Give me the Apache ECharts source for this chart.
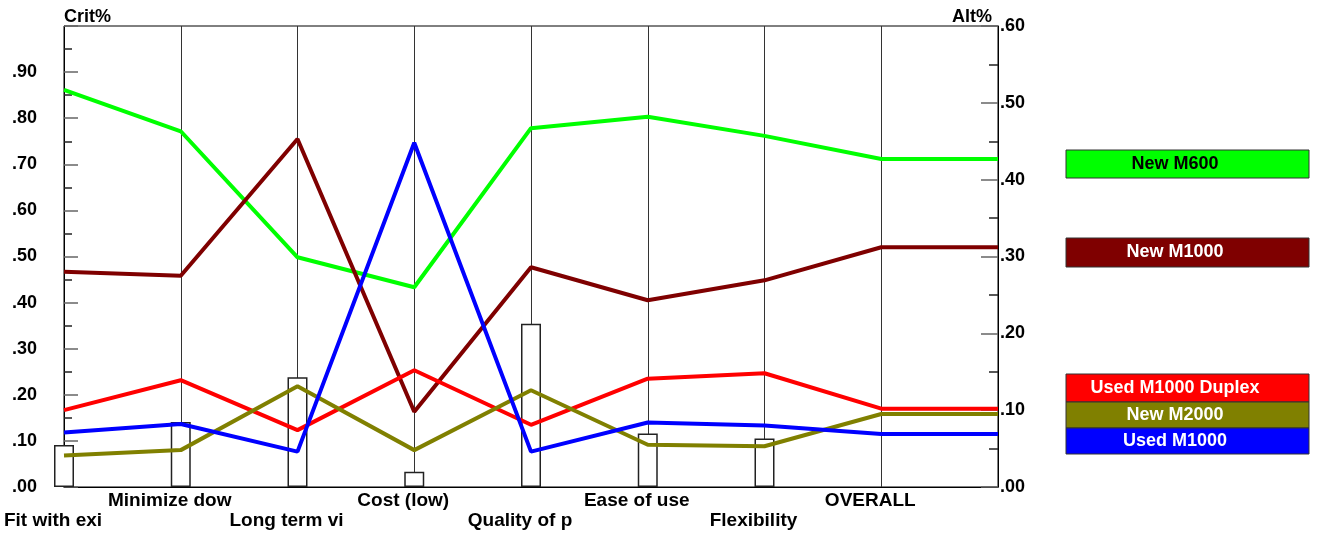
<!DOCTYPE html>
<html>
<head>
<meta charset="utf-8">
<script src="https://cdn.jsdelivr.net/npm/echarts@6/dist/echarts.min.js"></script>
<style>
  html, body { margin: 0; padding: 0; background: #fff; }
  #chart { width: 1317px; height: 533px; }
</style>
</head>
<body>
<div id="chart"></div>
<script>
// Criteria along the x axis (last slot carries the OVERALL values out to the right axis)
const categories = ['Fit with exi', 'Minimize dow', 'Long term vi', 'Cost (low)', 'Quality of p', 'Ease of use', 'Flexibility', 'OVERALL', ''];

// Criterion weights (left axis, Crit%)
const critWeights = [0.091, 0.141, 0.238, 0.033, 0.354, 0.116, 0.105, null, null];

// Alternative scores per criterion (right axis, Alt%)
const newM600         = [0.517, 0.463, 0.299, 0.260, 0.467, 0.482, 0.457, 0.427, 0.427];
const newM1000        = [0.280, 0.275, 0.453, 0.098, 0.286, 0.243, 0.269, 0.312, 0.312];
const usedM1000Duplex = [0.100, 0.139, 0.074, 0.152, 0.081, 0.141, 0.148, 0.102, 0.102];
const newM2000        = [0.041, 0.048, 0.131, 0.048, 0.126, 0.055, 0.053, 0.095, 0.095];
const usedM1000       = [0.071, 0.082, 0.046, 0.448, 0.046, 0.084, 0.080, 0.069, 0.069];

const alternativeNames = ['New M600', 'New M1000', 'Used M1000 Duplex', 'New M2000', 'Used M1000'];
const alternativeData = [newM600, newM1000, usedM1000Duplex, newM2000, usedM1000];
const alternativeColors = ['#00ff00', '#7f0000', '#ff0000', '#808000', '#0000ff'];
const legendTextColors = ['#000', '#fff', '#fff', '#fff', '#fff'];

const FONT = '"Liberation Sans", Arial, sans-serif';

function fmtTick(v) {
  return v.toFixed(2).replace(/^0/, '');
}

// Legend boxes at the right, next to each alternative's overall score
const legendLayout = [
  { top: 150, h: 28 },
  { top: 238, h: 29 },
  { top: 374, h: 28 },
  { top: 402, h: 26 },
  { top: 428, h: 26 }
];
const legendGraphics = [];
alternativeNames.forEach((name, i) => {
  const L = legendLayout[i];
  legendGraphics.push({
    type: 'rect',
    shape: { x: 1066, y: L.top, width: 243, height: L.h },
    style: { fill: alternativeColors[i], stroke: '#333', lineWidth: 1 }
  });
  legendGraphics.push({
    type: 'text',
    x: 1175, y: L.top + L.h / 2,
    style: {
      text: name, fill: legendTextColors[i], fontFamily: FONT,
      fontSize: 18, fontWeight: 'bold', align: 'center', verticalAlign: 'middle'
    }
  });
});

const chart = echarts.init(document.getElementById('chart'), null, { renderer: 'canvas' });

const series = [{
  name: 'Crit%',
  type: 'bar',
  yAxisIndex: 0,
  data: critWeights,
  barWidth: 20,
  z: 1,
  itemStyle: { color: '#fff', borderColor: '#222', borderWidth: 1.5 },
  silent: true
}];
alternativeNames.forEach((name, i) => {
  series.push({
    name: name,
    type: 'line',
    yAxisIndex: 1,
    data: alternativeData[i],
    symbol: 'none',
    z: 3,
    lineStyle: { color: alternativeColors[i], width: 4 },
    itemStyle: { color: alternativeColors[i] }
  });
});

chart.setOption({
  animation: false,
  backgroundColor: '#fff',
  grid: {
    left: 64, right: 319, top: 26, bottom: 46,
    show: true, borderColor: '#000', borderWidth: 1
  },
  xAxis: {
    type: 'category',
    data: categories,
    boundaryGap: false,
    axisLine: { lineStyle: { color: '#000', width: 1 } },
    axisTick: { show: false },
    splitLine: { show: true, lineStyle: { color: '#333', width: 1 } },
    axisLabel: {
      interval: 0,
      margin: 4,
      formatter: (v, i) => (i % 2 ? '{a|' + v + '}' : '{b|' + v + '}'),
      rich: {
        a: { fontFamily: FONT, fontSize: 19, fontWeight: 'bold', color: '#000', padding: [0, 22, 0, 0] },
        b: { fontFamily: FONT, fontSize: 19, fontWeight: 'bold', color: '#000', padding: [20, 22, 0, 0] }
      }
    }
  },
  yAxis: [{
    type: 'value',
    position: 'left',
    min: 0, max: 1, interval: 0.1,
    name: 'Crit%',
    nameLocation: 'end',
    nameGap: 0,
    nameTextStyle: { fontFamily: FONT, fontSize: 18, fontWeight: 'bold', color: '#000', align: 'left' },
    axisLine: { show: true, lineStyle: { color: '#000', width: 1 } },
    axisTick: { show: true, inside: true, length: 14, lineStyle: { color: '#666', width: 1.5 } },
    minorTick: { show: true, splitNumber: 2, length: 8, lineStyle: { color: '#222', width: 1.5 } },
    splitLine: { show: false },
    axisLabel: {
      margin: 27,
      fontFamily: FONT, fontSize: 18, fontWeight: 'bold', color: '#000',
      formatter: v => (v >= 1 ? '' : fmtTick(v))
    }
  }, {
    type: 'value',
    position: 'right',
    min: 0, max: 0.6, interval: 0.1,
    name: 'Alt%',
    nameLocation: 'end',
    nameGap: 0,
    nameTextStyle: { fontFamily: FONT, fontSize: 18, fontWeight: 'bold', color: '#000', align: 'right', padding: [0, 6, 0, 0] },
    axisLine: { show: true, lineStyle: { color: '#000', width: 1 } },
    axisTick: { show: true, inside: true, length: 17, lineStyle: { color: '#666', width: 1.5 } },
    minorTick: { show: true, splitNumber: 2, length: 9, lineStyle: { color: '#222', width: 1.5 } },
    splitLine: { show: false },
    axisLabel: {
      margin: 2,
      fontFamily: FONT, fontSize: 18, fontWeight: 'bold', color: '#000',
      formatter: v => fmtTick(v)
    }
  }],
  graphic: legendGraphics,
  series: series
});
</script>
</body>
</html>
